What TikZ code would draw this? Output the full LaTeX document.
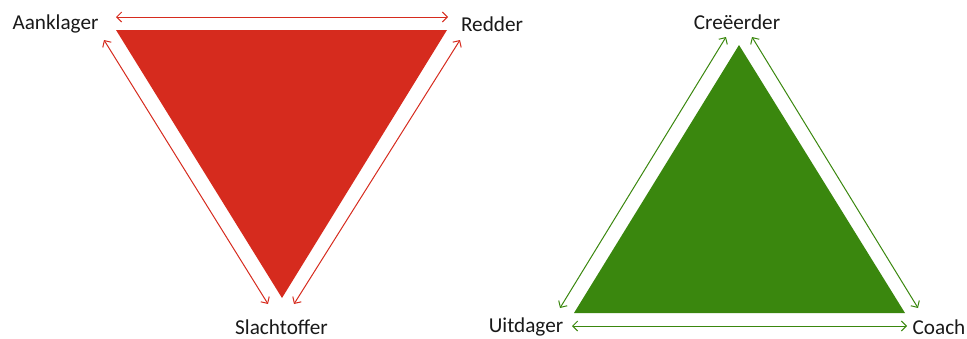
\documentclass[tikz,border=0pt]{standalone}
\usepackage{fontspec}
\setmainfont{Carlito}
\usetikzlibrary{arrows.meta}
\definecolor{dtred}{RGB}{214,43,30}
\definecolor{dtgreen}{RGB}{58,135,14}
\tikzset{
  lbl/.style={font=\fontsize{21.2}{25}\selectfont, text=black!90, inner sep=0pt},
  rarrow/.style={draw=dtred, line width=1pt, {Straight Barb[length=5pt,width=10pt]}-{Straight Barb[length=5pt,width=10pt]}},
  garrow/.style={draw=dtgreen, line width=1pt, {Straight Barb[length=5pt,width=10pt]}-{Straight Barb[length=5pt,width=10pt]}}
}
\begin{document}
\begin{tikzpicture}[x=1pt,y=-1pt]
\useasboundingbox (0,0) rectangle (967,338);
% red triangle
\coordinate (rA) at (116,30);
\coordinate (rB) at (447,30);
\coordinate (rC) at (282,298);
\fill[dtred] (rA) -- (rB) -- (rC) -- cycle;
\coordinate (r1) at (116,17);
\coordinate (r2) at (448,17);
\coordinate (r3) at (104,40);
\coordinate (r4) at (268,304);
\coordinate (r5) at (460,40);
\coordinate (r6) at (294,304);
\draw[rarrow] (r1) -- (r2);
\draw[rarrow] (r3) -- (r4);
\draw[rarrow] (r5) -- (r6);
\node[lbl] (aan) at (55.5,24) {Aanklager};
\node[lbl] (red) at (492,24) {Redder};
\node[lbl] (sla) at (281.5,327) {Slachtoffer};
% green triangle
\coordinate (gA) at (739,45);
\coordinate (gB) at (574,313);
\coordinate (gC) at (905,313);
\fill[dtgreen] (gA) -- (gB) -- (gC) -- cycle;
\coordinate (g1) at (726,37);
\coordinate (g2) at (560,308);
\coordinate (g3) at (752,37);
\coordinate (g4) at (918,308);
\coordinate (g5) at (572,326);
\coordinate (g6) at (907,326);
\draw[garrow] (g1) -- (g2);
\draw[garrow] (g3) -- (g4);
\draw[garrow] (g5) -- (g6);
\node[lbl] (cre) at (737,22) {Creëerder};
\node[lbl] (uit) at (526,327) {Uitdager};
\node[lbl] (coa) at (939,327) {Coach};
\end{tikzpicture}
\end{document}
